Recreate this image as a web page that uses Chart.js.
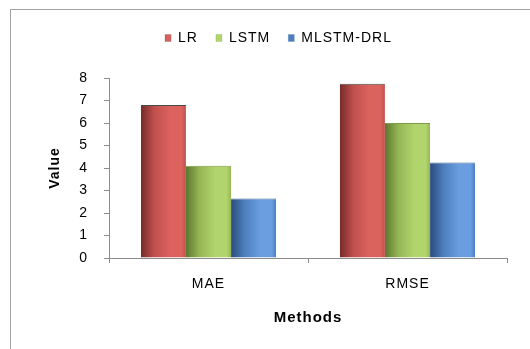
<!DOCTYPE html>
<html>
<head>
<meta charset="utf-8">
<script src="https://cdn.jsdelivr.net/npm/chart.js@4"></script>
<style>
  html, body { margin: 0; padding: 0; background: #fff; }
  #wrap { width: 530px; height: 349px; position: relative; }
</style>
</head>
<body>
<div id="wrap"><canvas id="c"></canvas></div>
<script>
// Error measures per method
const categories = ['MAE', 'RMSE'];
const seriesNames = ['LR', 'LSTM', 'MLSTM-DRL'];
const lrValues = [6.8, 7.75];
const lstmValues = [4.1, 6.0];
const mlstmDrlValues = [2.65, 4.25];
const yTicks = [0, 1, 2, 3, 4, 5, 6, 7, 8];

const FONT = "'Liberation Sans', Arial, sans-serif";
const CAT_PCT = 0.68;

// Shaded column fills: dark left edge, light band, slightly darker right edge
const palettes = [
  { dark: '#742b29', base: '#c0504d', light: '#dc625e', edge: '#4a4a4a' },
  { dark: '#5c772e', base: '#96b654', light: '#b2d46c', edge: '#7f9a48' },
  { dark: '#2a4c7c', base: '#4d7fbe', light: '#6a9ee0', edge: '#3f6a9c' }
];

function columnFill(p) {
  return (ctx) => {
    const chart = ctx.chart;
    const xs = chart.scales && chart.scales.x;
    if (ctx.type !== 'data' || !xs || !xs.width) return p.base;
    const catW = xs.width / categories.length;
    const groupW = catW * CAT_PCT;
    const barW = groupW / seriesNames.length;
    const x0 = xs.getPixelForValue(ctx.dataIndex) - groupW / 2 + ctx.datasetIndex * barW;
    const g = chart.ctx.createLinearGradient(x0, 0, x0 + barW, 0);
    g.addColorStop(0, p.dark);
    g.addColorStop(0.3, p.base);
    g.addColorStop(0.65, p.light);
    g.addColorStop(0.9, p.light);
    g.addColorStop(1, p.base);
    return g;
  };
}

const seriesValues = [lrValues, lstmValues, mlstmDrlValues];

const datasets = seriesNames.map((name, i) => ({
  label: name,
  data: seriesValues[i],
  backgroundColor: columnFill(palettes[i]),
  borderColor: palettes[i].edge,
  borderWidth: { top: 1, left: 0, right: 0, bottom: 0 },
  borderSkipped: false,
  barPercentage: 1.0,
  categoryPercentage: CAT_PCT
}));

// Outer frame of the chart
const framePlugin = {
  id: 'frame',
  beforeDraw(chart) {
    const c = chart.ctx;
    c.save();
    c.strokeStyle = '#a3a3a3';
    c.lineWidth = 1;
    c.strokeRect(10.5, 9.5, 700, 700);
    c.restore();
  }
};

// Slightly widened lettering for all chart text
const spacingPlugin = {
  id: 'spacing',
  beforeUpdate(chart) { chart.ctx.letterSpacing = '1px'; },
  beforeDraw(chart) { chart.ctx.letterSpacing = '1px'; }
};

// Extra room beneath the legend row
const legendGapPlugin = {
  id: 'legendGap',
  beforeInit(chart) {
    const lg = chart.legend;
    if (!lg) return;
    const fit = lg.fit;
    lg.fit = function () { fit.call(this); this.height += 23; };
  }
};

new Chart(document.getElementById('c'), {
  type: 'bar',
  data: { labels: categories, datasets },
  plugins: [framePlugin, spacingPlugin, legendGapPlugin],
  options: {
    responsive: true,
    maintainAspectRatio: false,
    animation: false,
    layout: { padding: { left: 50, right: 23, top: 13, bottom: 0 } },
    plugins: {
      tooltip: { enabled: false },
      legend: {
        position: 'top',
        labels: {
          font: { family: FONT, size: 14 },
          color: '#000',
          boxWidth: 6,
          boxHeight: 7,
          padding: 18
        }
      }
    },
    scales: {
      x: {
        grid: {
          display: true,
          drawOnChartArea: false,
          drawTicks: true,
          tickLength: 5,
          color: '#8c8c8c',
          offset: true
        },
        border: { display: true, color: '#8c8c8c', width: 1 },
        ticks: {
          font: { family: FONT, size: 14 },
          color: '#000',
          padding: 13
        },
        title: {
          display: true,
          text: 'Methods',
          font: { family: FONT, size: 15, weight: 'bold' },
          color: '#000',
          padding: { top: 0, bottom: 22 }
        },
        afterFit(scale) { scale.height = 91; }
      },
      y: {
        min: yTicks[0],
        max: yTicks[yTicks.length - 1],
        afterBuildTicks(scale) { scale.ticks = yTicks.map(v => ({ value: v })); },
        grid: {
          display: true,
          drawOnChartArea: false,
          drawTicks: true,
          tickLength: 5,
          color: '#8c8c8c'
        },
        border: { display: true, color: '#8c8c8c', width: 1 },
        ticks: {
          font: { family: FONT, size: 14 },
          color: '#000',
          padding: 16
        },
        title: {
          display: true,
          text: 'Value',
          font: { family: FONT, size: 14, weight: 'bold' },
          color: '#000',
          padding: { top: -3, bottom: 0 }
        },
        afterFit(scale) { scale.width = 59; }
      }
    }
  }
});
</script>
</body>
</html>
